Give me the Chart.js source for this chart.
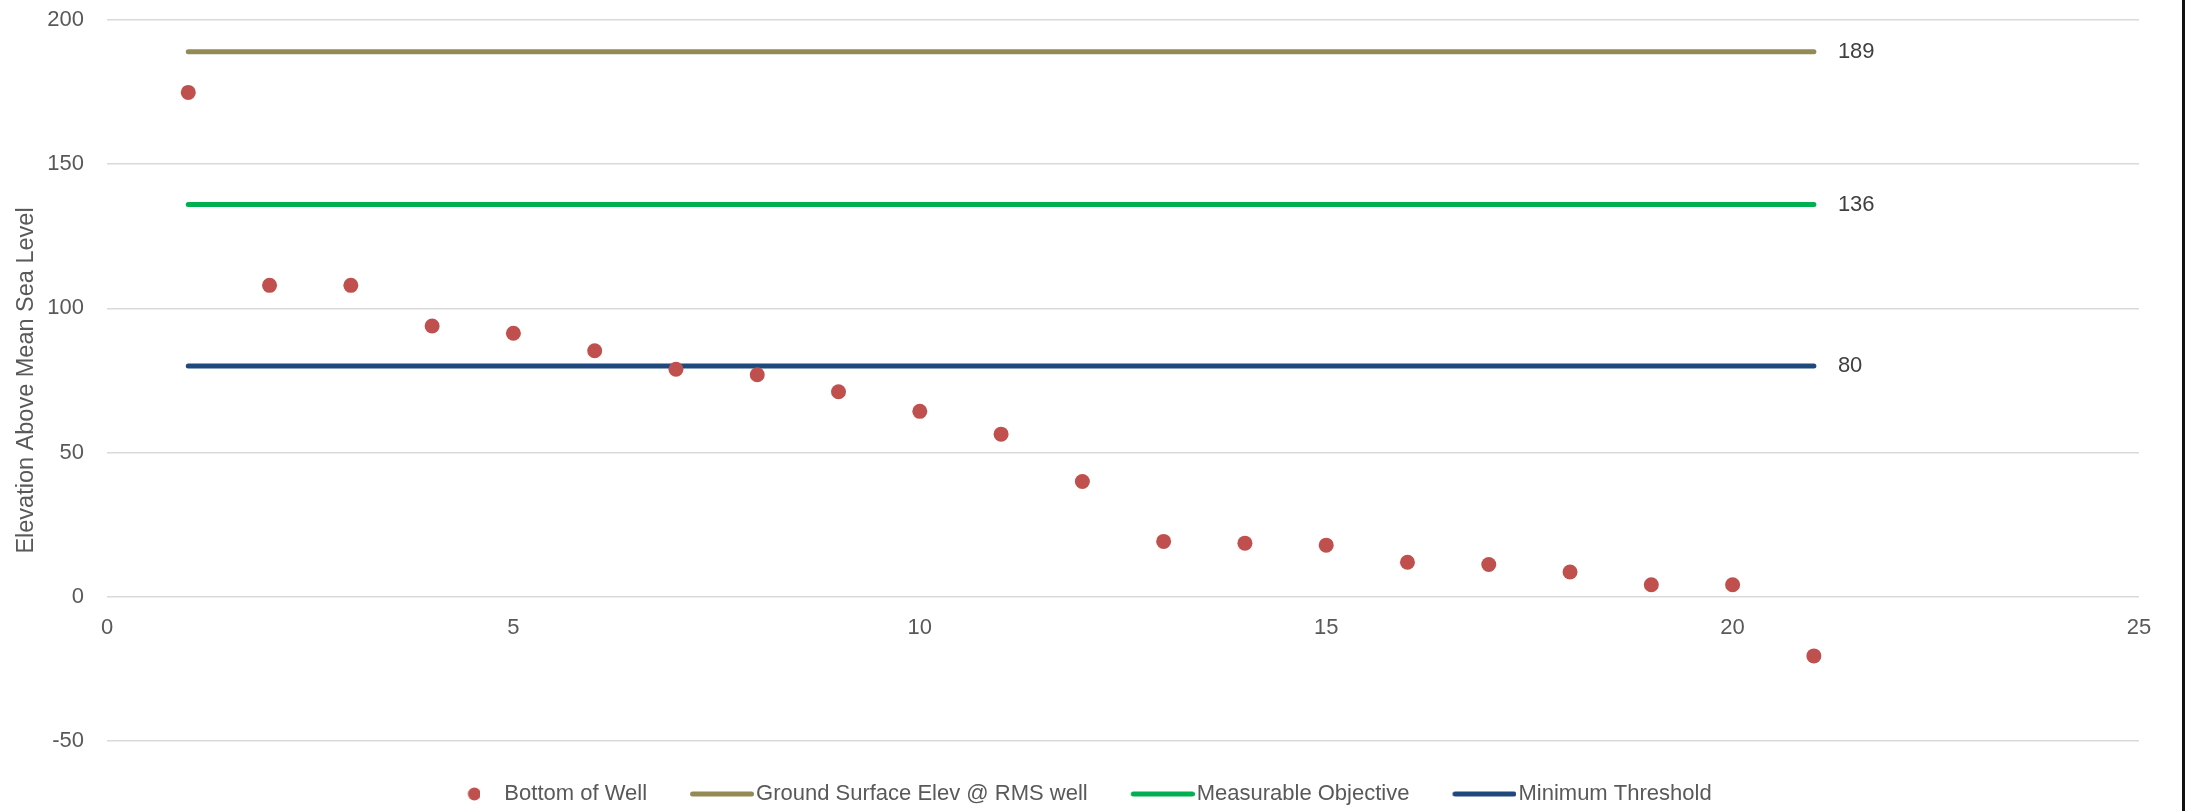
<!DOCTYPE html>
<html>
<head>
<meta charset="utf-8">
<script src="https://cdn.jsdelivr.net/npm/chart.js@4.4.1/dist/chart.umd.min.js"></script>
<style>
    body { margin: 0; background: #ffffff; }
    #wrap { position: relative; width: 2185px; height: 811px; }
    #edge { position: absolute; top: 0; right: 0; width: 3px; height: 811px; background: #111111; }
</style>
</head>
<body>
<div id="wrap">
    <canvas id="wellChart"></canvas>
    <div id="edge"></div>
</div>
<script>
// ---- data ----
const wellNumbers = [1, 2, 3, 4, 5, 6, 7, 8, 9, 10, 11, 12, 13, 14, 15, 16, 17, 18, 19, 20, 21];
const bottomOfWell = [174.9, 108, 108, 93.9, 91.4, 85.3, 78.9, 77, 71.1, 64.3, 56.4, 40, 19.2, 18.6, 17.9, 12, 11.2, 8.6, 4.2, 4.2, -20.5];
const lineRange = [1, 21];
const groundSurface = 189;
const measurableObjective = 136;
const minimumThreshold = 80;
const seriesNames = ['Bottom of Well', 'Ground Surface Elev @ RMS well', 'Measurable Objective', 'Minimum Threshold'];
const xTicks = { min: 0, max: 25, step: 5 };
const yTicks = { min: -50, max: 200, step: 50 };

const colors = {
    dots: '#C0504D',
    ground: '#948A54',
    measurable: '#00B050',
    minimum: '#1F497D',
    text: '#595959',
    label: '#404040',
    grid: '#D9D9D9'
};

Chart.defaults.font.family = "'Liberation Sans', Arial, sans-serif";
Chart.defaults.color = colors.text;

// flat line through the two ends of the range
function levelLine(value) {
    return lineRange.map(x => ({ x: x, y: value }));
}

// little legend pictures, so the line swatch can sit right against its text
function lineSwatch(color) {
    var c = document.createElement('canvas');
    c.width = 74;
    c.height = 10;
    var g = c.getContext('2d');
    g.strokeStyle = color;
    g.lineWidth = 5;
    g.lineCap = 'round';
    g.beginPath();
    g.moveTo(12.5, 5);
    g.lineTo(71.5, 5);
    g.stroke();
    return c;
}

function dotSwatch(color) {
    var c = document.createElement('canvas');
    c.width = 30;
    c.height = 16;
    var g = c.getContext('2d');
    g.fillStyle = color;
    g.beginPath();
    g.arc(24, 8, 6.5, 0, Math.PI * 2);
    g.fill();
    return c;
}

const swatches = [dotSwatch(colors.dots), lineSwatch(colors.ground), lineSwatch(colors.measurable), lineSwatch(colors.minimum)];

// value label to the right of each level line
const endLabels = {
    id: 'endLabels',
    afterDatasetsDraw(chart) {
        var ctx = chart.ctx;
        ctx.save();
        ctx.font = "22px 'Liberation Sans', Arial, sans-serif";
        ctx.fillStyle = colors.label;
        ctx.textAlign = 'left';
        ctx.textBaseline = 'middle';
        for (var i = 1; i < chart.data.datasets.length; i++) {
            var meta = chart.getDatasetMeta(i);
            var pts = meta.data;
            var last = pts[pts.length - 1];
            var value = chart.data.datasets[i].data[pts.length - 1].y;
            ctx.fillText(String(value), last.x + 24, last.y);
        }
        ctx.restore();
    }
};

var ctx = document.getElementById('wellChart').getContext('2d');
var wellChart = new Chart(ctx, {
    type: 'scatter',
    data: {
        datasets: [{
            label: seriesNames[0],
            data: wellNumbers.map((x, i) => ({ x: x, y: bottomOfWell[i] })),
            backgroundColor: colors.dots,
            borderWidth: 0,
            pointRadius: 7.5,
            pointHoverRadius: 7.5
        }, {
            label: seriesNames[1],
            data: levelLine(groundSurface),
            showLine: true,
            borderColor: colors.ground,
            borderWidth: 5,
            borderCapStyle: 'round',
            pointRadius: 0
        }, {
            label: seriesNames[2],
            data: levelLine(measurableObjective),
            showLine: true,
            borderColor: colors.measurable,
            borderWidth: 5,
            borderCapStyle: 'round',
            pointRadius: 0
        }, {
            label: seriesNames[3],
            data: levelLine(minimumThreshold),
            showLine: true,
            borderColor: colors.minimum,
            borderWidth: 5,
            borderCapStyle: 'round',
            pointRadius: 0
        }]
    },
    options: {
        responsive: true,
        maintainAspectRatio: false,
        animation: false,
        layout: {
            padding: { top: 20, right: 46, bottom: 0, left: 10 }
        },
        scales: {
            x: {
                type: 'linear',
                position: { y: 0 },
                min: xTicks.min,
                max: xTicks.max,
                grid: { display: false, drawTicks: false },
                border: { display: false },
                ticks: {
                    stepSize: xTicks.step,
                    padding: 18,
                    color: colors.text,
                    font: { size: 22 }
                }
            },
            y: {
                min: yTicks.min,
                max: yTicks.max,
                // invisible tick marks make the gap between labels and plot
                grid: { color: colors.grid, lineWidth: 1.5, drawTicks: true, tickLength: 23, tickColor: 'rgba(0,0,0,0)' },
                border: { display: false },
                ticks: {
                    stepSize: yTicks.step,
                    padding: 0,
                    color: colors.text,
                    font: { size: 22 }
                },
                title: {
                    display: true,
                    text: 'Elevation Above Mean Sea Level',
                    color: colors.text,
                    font: { size: 23.5 },
                    padding: { top: 2, bottom: 0 }
                },
                afterFit: function(scale) {
                    scale.width = 97;
                }
            }
        },
        plugins: {
            legend: {
                position: 'bottom',
                maxHeight: 70,
                labels: {
                    usePointStyle: true,
                    pointStyleWidth: 56,
                    padding: 42,
                    color: colors.text,
                    font: { size: 22 },
                    generateLabels: function(chart) {
                        return chart.data.datasets.map((ds, i) => ({
                            text: ds.label,
                            pointStyle: swatches[i],
                            fillStyle: 'transparent',
                            strokeStyle: 'transparent',
                            lineWidth: 0,
                            fontColor: colors.text,
                            datasetIndex: i,
                            hidden: false
                        }));
                    }
                }
            },
            tooltip: { enabled: false }
        }
    },
    plugins: [endLabels]
});
</script>
</body>
</html>
